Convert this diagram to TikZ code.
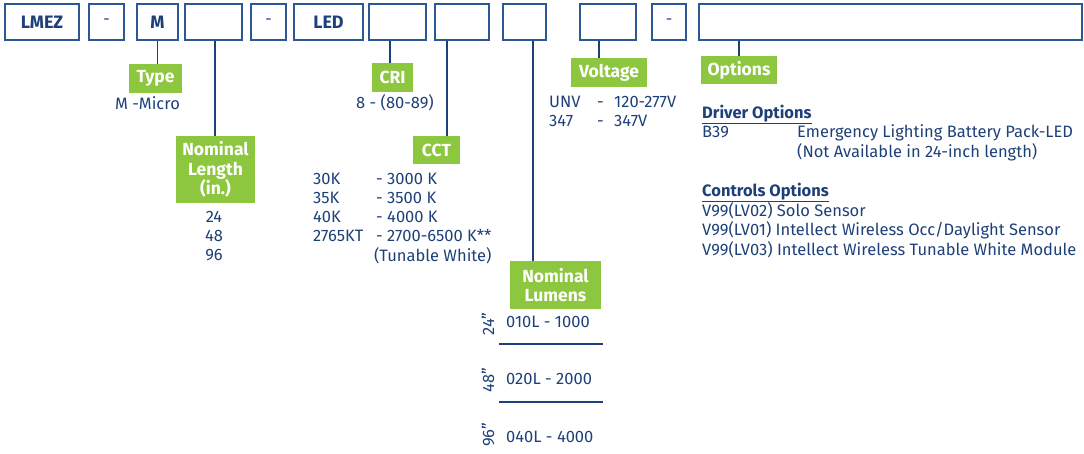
\documentclass[tikz,border=0pt]{standalone}
\usepackage{fontspec}
\setmainfont{Fira Sans}
\usetikzlibrary{positioning}

\definecolor{navy}{HTML}{1E4079}
\definecolor{boxblue}{HTML}{2D5794}
\definecolor{tagGreen}{HTML}{8DC63F}

\tikzset{
  codebox/.style={draw=boxblue, line width=1.3pt, minimum height=36pt, inner sep=0pt,
    text=navy, font=\fontsize{18}{21}\selectfont\bfseries},
  tag/.style={fill=tagGreen, text=white, inner sep=0pt, align=center,
    font=\fontsize{17.5}{19.5}\selectfont\bfseries},
  info/.style={text=navy, inner sep=0pt, anchor=base west,
    font=\fontsize{16.5}{19}\selectfont},
  link/.style={draw=navy, line width=1.4pt}
}

\begin{document}
\begin{tikzpicture}[x=1pt, y=-1pt]
\useasboundingbox (0,0) rectangle (1084,454);

% Catalogue code boxes
\node[codebox, minimum width=74pt] (lmez) at (42,22) {LMEZ};
\node[codebox, minimum width=35pt, font=\fontsize{16}{18}\selectfont] (dashA) at (106.5,22) {-};
\node[codebox, minimum width=41pt] (micro) at (157.5,22) {M};
\node[codebox, minimum width=57pt] (length) at (213.5,22) {};
\node[codebox, minimum width=35pt, font=\fontsize{16}{18}\selectfont] (dashB) at (268.5,22) {-};
\node[codebox, minimum width=69pt] (led) at (328.5,22) {LED};
\node[codebox, minimum width=57pt] (cri) at (397.5,22) {};
\node[codebox, minimum width=54pt] (cct) at (462,22) {};
\node[codebox, minimum width=43pt] (lumens) at (524.5,22) {};
\node[codebox, minimum width=56pt] (voltage) at (608,22) {};
\node[codebox, minimum width=34pt, font=\fontsize{16}{18}\selectfont] (dashC) at (669,22) {-};
\node[codebox, minimum width=383pt] (options) at (890.5,22) {};

% Green tags
\node[tag, minimum width=53pt, minimum height=29pt] (typeTag) at (155.5,78.5) {Type};
\node[tag, minimum width=79pt, minimum height=67pt] (lengthTag) at (215.5,169.5) {Nominal\\Length\\(in.)};
\node[tag, minimum width=41pt, minimum height=29pt] (criTag) at (392.5,77.5) {CRI};
\node[tag, minimum width=47pt, minimum height=28pt] (cctTag) at (436.5,150) {CCT};
\node[tag, minimum width=91pt, minimum height=48pt] (lumensTag) at (555.5,285) {Nominal\\Lumens};
\node[tag, minimum width=76pt, minimum height=29pt] (voltageTag) at (609,72.5) {Voltage};
\node[tag, minimum width=76pt, minimum height=28pt] (optionsTag) at (739,70) {Options};

% Connectors
\draw[link] (micro.south) -- (micro.south |- typeTag.north);
\draw[link] ([xshift=1.5pt]length.south) -- ([xshift=1.5pt]length.south |- lengthTag.north);
\draw[link] ([xshift=-7.5pt]cri.south) -- ([xshift=-7.5pt]cri.south |- criTag.north);
\draw[link] ([xshift=-15pt]cct.south) -- ([xshift=-15pt]cct.south |- cctTag.north);
\draw[link] ([xshift=8.5pt]lumens.south) -- ([xshift=8.5pt]lumens.south |- lumensTag.north);
\draw[link] ([xshift=-9pt]voltage.south) -- ([xshift=-9pt]voltage.south |- voltageTag.north);
\draw[link] (optionsTag.north) -- (optionsTag.north |- options.south);

% Values
\node[info, anchor=base] (typeVals) at (147.5,109.5) {M -Micro};
\node[info] (criVals) at (356,108.5) {8 - (80-89)};
\node[info, anchor=base] (lengthVals) at (214,222.5)
{\begin{tabular}[t]{@{}c@{}}24\\48\\96\end{tabular}};
\node[info] (cctVals) at (313,184.5)
{\begin{tabular}[t]{@{}p{63pt}@{}l@{}}
30K & - 3000 K\\
35K & - 3500 K\\
40K & - 4000 K\\
2765KT & - 2700-6500 K**\\
\multicolumn{2}{@{}r@{}}{(Tunable White)}
\end{tabular}};
\node[info] (voltageVals) at (549,107.5)
{\begin{tabular}[t]{@{}p{48pt}@{}p{17pt}@{}l@{}}
UNV & - & 120-277V\\
347 & - & 347V
\end{tabular}};

% Lumen packages
\node[info] (lumA) at (506,327.5) {010L - 1000};
\node[info] (lumB) at (506,384.5) {020L - 2000};
\node[info] (lumC) at (506,442.5) {040L - 4000};
\node[info, anchor=center, rotate=90] (lenA) at (488,324) {24”};
\node[info, anchor=center, rotate=90] (lenB) at (488,380) {48”};
\node[info, anchor=center, rotate=90] (lenC) at (488,435) {96”};
\draw[link] (499,344) -- (603,344);
\draw[link] (499,402) -- (603,402);

% Options lists
\node[info] (driverOpts) at (702,118.5)
{\begin{tabular}[t]{@{}p{95pt}@{}l@{}}
\multicolumn{2}{@{}l@{}}{\textbf{\underline{Driver Options}}}\\
B39 & Emergency Lighting Battery Pack-LED\\
 & (Not Available in 24-inch length)
\end{tabular}};
\node[info] (controlOpts) at (702,196.5)
{\begin{tabular}[t]{@{}l@{}}
\textbf{\underline{Controls Options}}\\
V99(LV02) Solo Sensor\\
V99(LV01) Intellect Wireless Occ/Daylight Sensor\\
V99(LV03) Intellect Wireless Tunable White Module
\end{tabular}};

\end{tikzpicture}
\end{document}
